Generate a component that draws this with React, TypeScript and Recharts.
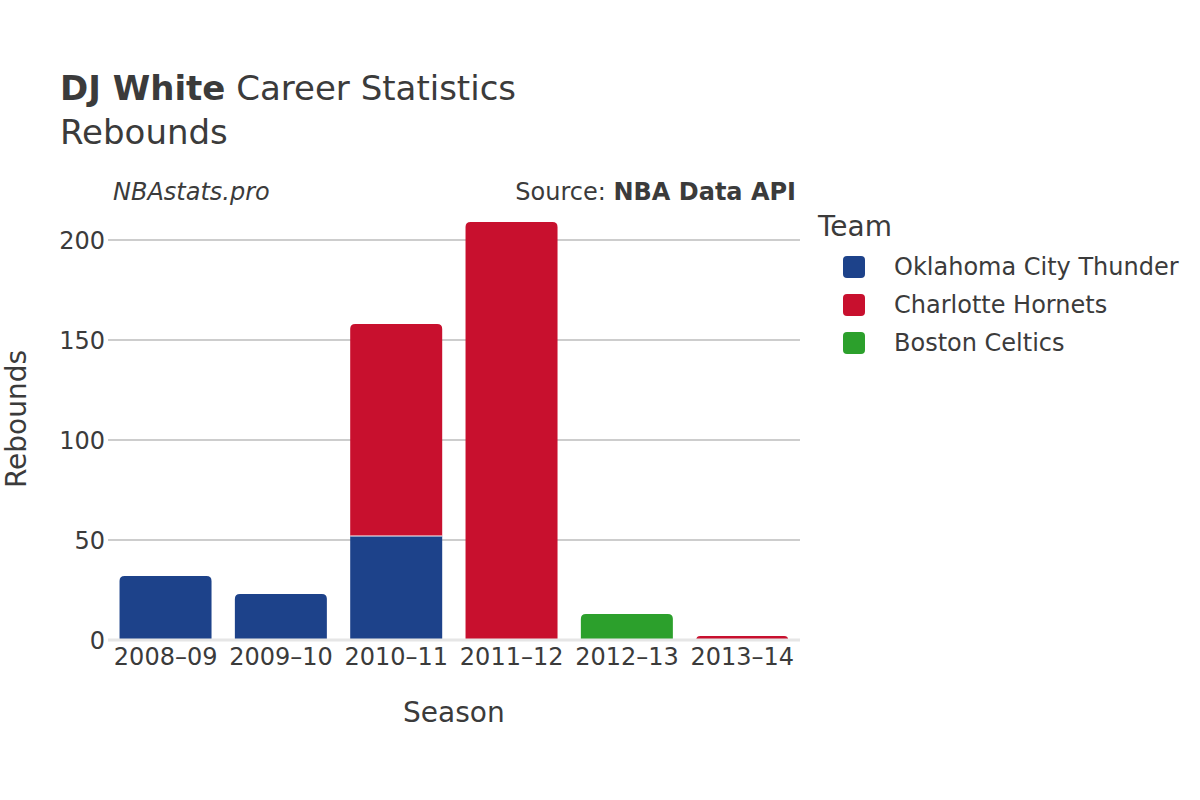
import React from "react";
import { BarChart, Bar, XAxis, YAxis, CartesianGrid } from "recharts";

const seasons = ["2008–09", "2009–10", "2010–11", "2011–12", "2012–13", "2013–14"];
const okcValues: (number | null)[] = [32, 23, 52, null, null, null];
const chaValues: (number | null)[] = [null, null, 106, 209, null, 2];
const bosValues: (number | null)[] = [null, null, null, null, 13, null];
const yTicks = [0, 50, 100, 150, 200];

const teams = [
  { key: "okc", name: "Oklahoma City Thunder", color: "#1d428a" },
  { key: "cha", name: "Charlotte Hornets", color: "#c8102e" },
  { key: "bos", name: "Boston Celtics", color: "#2ca02c" },
];
const order = teams.map((t) => t.key);

const data = seasons.map((s, i) => ({
  season: s,
  okc: okcValues[i],
  cha: chaValues[i],
  bos: bosValues[i],
}));

const FONT = "'DejaVu Sans', sans-serif";
const TXT = "#3b3b3b";

const makeShape = (key: string) => (props: any) => {
  const { x, y, width, height, fill, payload } = props;
  if (!height || height <= 0) return <g />;
  const idx = order.indexOf(key);
  const isTop = order.slice(idx + 1).every((k) => payload[k] == null || payload[k] === 0);
  const isBottom = order.slice(0, idx).every((k) => payload[k] == null || payload[k] === 0);
  const r = isTop ? Math.min(5, height, width / 2) : 0;
  const d = `M${x},${y + height} L${x},${y + r} Q${x},${y} ${x + r},${y} L${x + width - r},${y} Q${x + width},${y} ${x + width},${y + r} L${x + width},${y + height} Z`;
  return (
    <g>
      <path d={d} fill={fill} />
      {!isBottom && (
        <line x1={x} x2={x + width} y1={y + height} y2={y + height} stroke="#ffffff" strokeWidth={1.2} />
      )}
    </g>
  );
};

const abs = (style: React.CSSProperties): React.CSSProperties => ({
  position: "absolute",
  fontFamily: FONT,
  color: TXT,
  whiteSpace: "nowrap",
  lineHeight: 1,
  ...style,
});

export default function App() {
  return (
    <div style={{ position: "absolute", left: 0, top: 0, width: 1200, height: 800, background: "#fff" }}>
      <BarChart
        width={1200}
        height={800}
        data={data}
        margin={{ top: 200, right: 400, bottom: 100, left: 48 }}
        barCategoryGap="10%"
      >
        <CartesianGrid vertical={false} horizontalValues={[50, 100, 150, 200]} stroke="#bdbdbd" strokeWidth={1.3} />
        <XAxis
          dataKey="season"
          height={60}
          tickLine={false}
          tickSize={0}
          tickMargin={8}
          axisLine={{ stroke: "#e6e6e6", strokeWidth: 3 }}
          tick={{ fontFamily: FONT, fontSize: 24, fill: TXT }}
        />
        <YAxis
          width={60}
          domain={[0, 220]}
          ticks={yTicks}
          tickLine={false}
          tickSize={0}
          tickMargin={3}
          axisLine={false}
          tick={{ fontFamily: FONT, fontSize: 24, fill: TXT }}
        />
        {teams.map((t) => (
          <Bar
            key={t.key}
            dataKey={t.key}
            name={t.name}
            stackId="a"
            fill={t.color}
            isAnimationActive={false}
            shape={makeShape(t.key)}
          />
        ))}
      </BarChart>

      <div style={abs({ left: 60, top: 71, fontSize: 34 })}>
        <span style={{ fontWeight: "bold" }}>DJ White</span> Career Statistics
      </div>
      <div style={abs({ left: 60, top: 115, fontSize: 34 })}>Rebounds</div>
      <div style={abs({ left: 113, top: 180, fontSize: 24, fontStyle: "italic" })}>NBAstats.pro</div>
      <div style={abs({ right: 404, top: 180, fontSize: 24 })}>
        Source: <span style={{ fontWeight: "bold" }}>NBA Data API</span>
      </div>
      <div style={abs({ left: 403, top: 699, fontSize: 28 })}>Season</div>
      <div
        style={abs({
          left: 17,
          top: 419,
          fontSize: 28,
          transform: "translate(-50%, -50%) rotate(-90deg)",
        })}
      >
        Rebounds
      </div>
      <div style={abs({ left: 818, top: 213, fontSize: 28 })}>Team</div>
      {teams.map((t, i) => (
        <div key={t.key} style={abs({ left: 843, top: 255 + i * 38, fontSize: 24, display: "flex", alignItems: "center" })}>
          <div style={{ width: 22, height: 22, borderRadius: 4, background: t.color, marginRight: 29 }} />
          <span>{t.name}</span>
        </div>
      ))}
    </div>
  );
}
